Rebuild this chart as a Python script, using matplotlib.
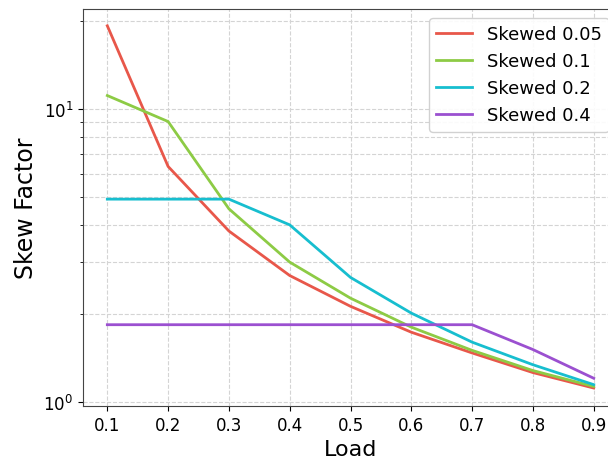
import matplotlib
matplotlib.use("Agg")
import matplotlib.pyplot as plt

loads = [0.1, 0.2, 0.3, 0.4, 0.5, 0.6, 0.7, 0.8, 0.9]
skewed_005 = [19.2, 6.36, 3.83, 2.70, 2.12, 1.73, 1.47, 1.26, 1.116]
skewed_01 = [11.1, 9.05, 4.56, 3.00, 2.26, 1.80, 1.50, 1.28, 1.13]
skewed_02 = [4.92, 4.92, 4.92, 4.02, 2.66, 2.01, 1.60, 1.34, 1.146]
skewed_04 = [1.835, 1.835, 1.835, 1.835, 1.835, 1.835, 1.835, 1.51, 1.205]
labels = ["Skewed 0.05", "Skewed 0.1", "Skewed 0.2", "Skewed 0.4"]
colors = ["#E8574A", "#8DCB45", "#17BECF", "#9B50D0"]

fig = plt.figure(figsize=(6.08, 4.6), dpi=100)
ax = fig.add_axes([0.1365, 0.1152, 0.88, 0.863])

for series, lab, c in zip([skewed_005, skewed_01, skewed_02, skewed_04], labels, colors):
    ax.plot(loads, series, color=c, linewidth=2, label=lab)

ax.set_yscale("log")
ax.set_ylim(0.969, 21.9)
ax.set_xlim(0.06, 0.94)
ax.set_xticks(loads)
ax.set_xticklabels([f"{v:.1f}" for v in loads])
ax.tick_params(axis="both", which="major", labelsize=12)
ax.grid(True, which="both", linestyle="--", color="#d4d4d4", linewidth=0.8)
ax.set_xlabel("Load", fontsize=16)
ax.set_ylabel("Skew Factor", fontsize=17)
ax.legend(loc="upper right", fontsize=13, framealpha=0.9)
for s in ax.spines.values():
    s.set_color("#444444")

fig.savefig("out.png", dpi=100)
